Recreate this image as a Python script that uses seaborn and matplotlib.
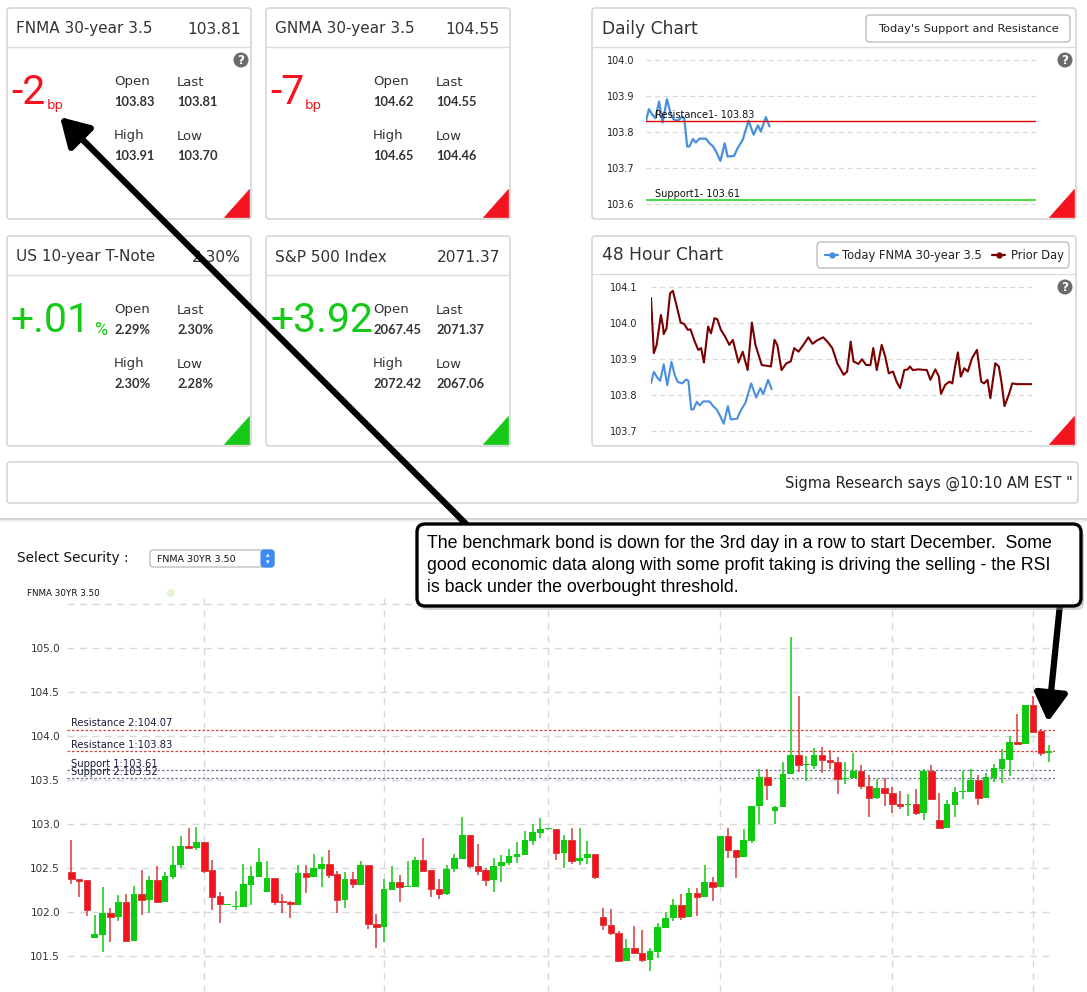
import matplotlib
matplotlib.use("Agg")
import matplotlib.pyplot as plt
import seaborn as sns
import numpy as np
from matplotlib.patches import FancyBboxPatch, Polygon, Circle, FancyArrowPatch

W, H = 1087, 992

# ---------------- data ----------------
tile_titles = ["FNMA 30-year 3.5", "GNMA 30-year 3.5", "US 10-year T-Note", "S&P 500 Index"]
tile_last = ["103.81", "104.55", "2.30%", "2071.37"]
tile_change = ["-2", "-7", "+.01", "+3.92"]
tile_unit = ["bp", "bp", "%", ""]
tile_open = ["103.83", "104.62", "2.29%", "2067.45"]
tile_close = ["103.81", "104.55", "2.30%", "2071.37"]
tile_high = ["103.91", "104.65", "2.30%", "2072.42"]
tile_low = ["103.70", "104.46", "2.28%", "2067.06"]

# intraday, minutes from session open
today_min = [0, 4, 9, 13, 18, 23, 29, 34, 38, 44, 50, 53, 57, 60, 65, 69, 74, 83, 88, 93,
             98, 103, 109, 113, 122, 127, 134, 142, 149, 155, 159, 166, 171]
today_px = [103.832, 103.864, 103.848, 103.839, 103.885, 103.827, 103.892, 103.853, 103.836,
            103.832, 103.843, 103.839, 103.760, 103.760, 103.781, 103.771, 103.782, 103.782,
            103.769, 103.760, 103.742, 103.720, 103.769, 103.732, 103.734, 103.756, 103.779,
            103.832, 103.793, 103.819, 103.802, 103.842, 103.816]

prior_min = [0, 4, 8, 14, 17, 18, 22, 27, 31, 36, 42, 47, 52, 56, 62, 67, 71, 75, 81, 85,
             90, 94, 99, 105, 111, 116, 124, 130, 137, 143, 148, 157, 164, 170, 175, 179,
             185, 192, 198, 203, 209, 216, 223, 229, 235, 244, 250, 257, 264, 273, 278,
             283, 287, 294, 299, 305, 311, 315, 320, 327, 332, 337, 343, 348, 353, 359,
             364, 367, 371, 379, 391, 396, 403, 408, 411, 417, 423, 427, 431, 435, 439,
             444, 449, 455, 462, 468, 472, 477, 481, 488, 493, 497, 501, 507, 512, 519, 539]
prior_px = [104.069, 103.916, 103.939, 104.022, 103.990, 103.969, 103.985, 104.082, 104.089,
            104.050, 104.001, 103.997, 103.981, 103.982, 103.948, 103.925, 103.930, 103.890,
            103.990, 103.971, 104.013, 104.010, 103.981, 103.962, 103.939, 103.953, 103.890,
            103.920, 103.869, 104.001, 103.939, 103.883, 103.881, 103.879, 103.953, 103.939,
            103.869, 103.888, 103.893, 103.930, 103.920, 103.939, 103.960, 103.942, 103.951,
            103.960, 103.948, 103.930, 103.888, 103.856, 103.865, 103.948, 103.893, 103.886,
            103.899, 103.883, 103.883, 103.930, 103.869, 103.939, 103.906, 103.860, 103.865,
            103.837, 103.819, 103.869, 103.871, 103.879, 103.869, 103.871, 103.869, 103.842,
            103.871, 103.851, 103.803, 103.828, 103.837, 103.832, 103.879, 103.918, 103.851,
            103.874, 103.865, 103.902, 103.925, 103.837, 103.832, 103.842, 103.791, 103.888,
            103.879, 103.832, 103.769, 103.800, 103.832, 103.830, 103.830]

daily_res = 103.83
daily_sup = 103.61

# daily candles: open, high, low, close
c_open = [102.45, 102.37, 102.36, 101.71, 101.74, 101.99, 101.94, 102.11, 101.67, 102.20,
          102.14, 102.36, 102.11, 102.40, 102.53, 102.75, 102.73, 102.79, 102.48, 102.18,
          102.08, 102.06, 102.06, 102.31, 102.40, 102.23, 102.39, 102.13, 102.11, 102.08,
          102.44, 102.40, 102.49, 102.55, 102.43, 102.14, 102.37, 102.31, 102.53, 101.86,
          101.83, 102.25, 102.34, 102.28, 102.28, 102.59, 102.48, 102.26, 102.20, 102.49,
          102.60, 102.87, 102.52, 102.48, 102.36, 102.52, 102.56, 102.63, 102.65, 102.81,
          102.90, 102.94, 102.94, 102.67, 102.82, 102.58, 102.61, 102.66, 101.94, 101.85,
          101.76, 101.44, 101.59, 101.53, 101.45, 101.55, 101.82, 101.93, 102.08, 101.94,
          102.22, 102.17, 102.34, 102.28, 102.86, 102.71, 102.62, 102.81, 103.20, 103.53,
          103.15, 103.19, 103.57, 103.78, 103.67, 103.66, 103.78, 103.73, 103.71, 103.51,
          103.52, 103.60, 103.43, 103.30, 103.41, 103.35, 103.23, 103.22, 103.23, 103.13,
          103.60, 103.05, 102.95, 103.22, 103.36, 103.36, 103.50, 103.29, 103.52, 103.63,
          103.73, 103.93, 103.91, 104.35, 104.06, 103.81]
c_high = [102.82, 102.37, 102.36, 101.97, 102.28, 102.05, 102.19, 102.20, 102.29, 102.48,
          102.41, 102.52, 102.45, 102.75, 102.86, 102.95, 102.97, 102.79, 102.59, 102.23,
          102.09, 102.24, 102.55, 102.52, 102.73, 102.58, 102.39, 102.20, 102.13, 102.53,
          102.53, 102.66, 102.63, 102.70, 102.47, 102.45, 102.45, 102.58, 102.53, 101.98,
          102.38, 102.52, 102.42, 102.58, 102.63, 102.84, 102.48, 102.37, 102.53, 102.66,
          103.08, 102.87, 102.77, 102.50, 102.61, 102.65, 102.72, 102.79, 102.92, 103.00,
          103.07, 102.95, 102.94, 102.87, 102.96, 102.95, 102.81, 102.66, 102.05, 102.03,
          101.78, 101.69, 101.84, 101.80, 101.59, 101.88, 102.00, 102.15, 102.20, 102.27,
          102.27, 102.53, 102.40, 102.86, 102.95, 102.71, 102.94, 103.20, 103.62, 103.62,
          103.20, 103.70, 105.12, 104.46, 103.77, 103.86, 103.87, 103.84, 103.76, 103.70,
          103.81, 103.67, 103.56, 103.51, 103.52, 103.42, 103.37, 103.34, 103.40, 103.62,
          103.67, 103.35, 103.27, 103.42, 103.60, 103.62, 103.56, 103.58, 103.68, 103.85,
          104.00, 104.25, 104.35, 104.45, 104.08, 103.90]
c_low = [102.32, 102.17, 101.95, 101.70, 101.55, 101.66, 101.90, 101.67, 101.67, 101.97,
         101.99, 102.11, 102.11, 102.38, 102.50, 102.73, 102.70, 102.44, 102.02, 101.87,
         102.08, 102.02, 102.06, 102.08, 102.40, 102.23, 102.08, 101.99, 101.93, 102.08,
         102.22, 102.40, 102.28, 102.39, 101.99, 102.04, 102.27, 102.31, 101.81, 101.59,
         101.66, 102.25, 102.11, 102.28, 102.28, 102.47, 102.17, 102.15, 102.19, 102.46,
         102.60, 102.50, 102.42, 102.29, 102.23, 102.34, 102.53, 102.56, 102.65, 102.76,
         102.84, 102.93, 102.59, 102.50, 102.54, 102.53, 102.55, 102.38, 101.80, 101.74,
         101.43, 101.44, 101.53, 101.43, 101.33, 101.48, 101.82, 101.90, 101.91, 101.94,
         101.95, 102.17, 102.12, 102.28, 102.61, 102.39, 102.62, 102.78, 103.00, 103.27,
         103.00, 103.19, 103.57, 103.59, 103.49, 103.62, 103.58, 103.62, 103.34, 103.45,
         103.52, 103.40, 103.08, 103.28, 103.20, 103.12, 103.17, 103.09, 103.10, 103.05,
         103.28, 102.95, 102.95, 103.08, 103.28, 103.36, 103.22, 103.29, 103.48, 103.47,
         103.54, 103.91, 103.91, 104.05, 103.77, 103.70]
c_close = [102.37, 102.35, 102.02, 101.75, 101.99, 101.94, 102.11, 101.67, 102.20, 102.14,
           102.36, 102.11, 102.41, 102.53, 102.75, 102.73, 102.80, 102.47, 102.17, 102.09,
           102.09, 102.07, 102.32, 102.41, 102.57, 102.39, 102.11, 102.11, 102.09, 102.44,
           102.40, 102.50, 102.55, 102.42, 102.14, 102.37, 102.32, 102.53, 101.86, 101.83,
           102.26, 102.34, 102.28, 102.29, 102.59, 102.47, 102.26, 102.20, 102.49, 102.61,
           102.87, 102.52, 102.47, 102.36, 102.52, 102.57, 102.64, 102.66, 102.82, 102.91,
           102.94, 102.945, 102.67, 102.82, 102.58, 102.61, 102.66, 102.40, 101.85, 101.76,
           101.44, 101.59, 101.53, 101.45, 101.56, 101.83, 101.93, 102.08, 101.94, 102.22,
           102.17, 102.34, 102.28, 102.86, 102.71, 102.62, 102.82, 103.20, 103.53, 103.44,
           103.19, 103.57, 103.78, 103.67, 103.675, 103.78, 103.73, 103.71, 103.51, 103.52,
           103.60, 103.43, 103.30, 103.41, 103.35, 103.23, 103.21, 103.23, 103.13, 103.60,
           103.28, 102.95, 103.23, 103.36, 103.38, 103.50, 103.29, 103.53, 103.64, 103.74,
           103.93, 103.91, 104.35, 104.05, 103.81, 103.83]

month_starts = [17, 40, 61, 83, 105, 123]
sr_names = ["Resistance 2", "Resistance 1", "Support 1", "Support 2"]
sr_levels = [104.07, 103.83, 103.61, 103.52]
price_ticks = [101.5, 102.0, 102.5, 103.0, 103.5, 104.0, 104.5, 105.0, 105.5]

note_lines = ["The benchmark bond is down for the 3rd day in a row to start December.  Some",
              "good economic data along with some profit taking is driving the selling - the RSI",
              "is back under the overbought threshold."]

# ---------------- styling ----------------
sns.set_theme(style="white")
plt.rcParams["font.family"] = ["DejaVu Sans"]

RED = "#f3141f"
GREEN = "#16c916"
TXT = "#333333"
BORDER = "#cfcfcf"
GRID = "#d9d9d9"

fig = plt.figure(figsize=(W / 100, H / 100), dpi=100)
fig.patch.set_facecolor("white")


def px_axes(x0, y0, x1, y1, z=5):
    return fig.add_axes([x0 / W, 1 - y1 / H, (x1 - x0) / W, (y1 - y0) / H], zorder=z)


def overlay(z):
    a = px_axes(0, 0, W, H, z)
    a.set_xlim(0, W)
    a.set_ylim(H, 0)
    a.axis("off")
    a.patch.set_alpha(0)
    return a


bg = overlay(0)
fg = overlay(20)


def panel(x0, y0, x1, y1, header=None):
    bg.add_patch(FancyBboxPatch((x0, y0), x1 - x0, y1 - y0,
                                boxstyle="round,pad=0,rounding_size=3",
                                fc="white", ec=BORDER, lw=1))
    if header is not None:
        bg.plot([x0, x1], [header, header], color="#dcdcdc", lw=1)


def corner(x1, y1, color):
    bg.add_patch(Polygon([(x1 - 27, y1 - 2), (x1 - 2, y1 - 2), (x1 - 2, y1 - 30)],
                         closed=True, fc=color, ec=color, lw=0.5))


def help_icon(cx, cy):
    bg.add_patch(Circle((cx, cy), 7.5, fc="#6b6b6b", ec="none"))
    bg.text(cx, cy + 0.5, "?", color="white", fontsize=8.5, fontweight="bold",
            ha="center", va="center")


def clean(a):
    a.patch.set_alpha(0)
    a.set_xlabel("")
    a.set_ylabel("")
    for s in a.spines.values():
        s.set_visible(False)


# ---------------- stat tiles ----------------
tile_boxes = [(7, 8, 251, 219), (266, 8, 510, 219), (7, 236, 251, 446), (266, 236, 510, 446)]
renderer = fig.canvas.get_renderer()

for i, (x0, y0, x1, y1) in enumerate(tile_boxes):
    panel(x0, y0, x1, y1, header=y0 + 39)
    bg.text(x0 + 9, y0 + 21, tile_titles[i], fontsize=11, color=TXT, va="center")
    bg.text(x1 - 10, y0 + 21, tile_last[i], fontsize=11.2, color=TXT, va="center", ha="right")
    col = RED if tile_change[i].startswith("-") else GREEN
    t = bg.text(x0 + 4, y0 + 85, tile_change[i], fontsize=29.5, color=col, va="center",
                family="Roboto")
    ext = t.get_window_extent(renderer)
    xr = bg.transData.inverted().transform((ext.x1, ext.y0))[0]
    if tile_unit[i] == "bp":
        bg.text(xr + 1, y0 + 97, "bp", fontsize=9.5, color=col, va="center")
    elif tile_unit[i]:
        bg.text(xr + 3, y0 + 94, tile_unit[i], fontsize=13, color=col, va="center",
                family="Roboto")
    for lab, val, dx, dy in [("Open", tile_open[i], 107, 74), ("Last", tile_close[i], 170, 74),
                             ("High", tile_high[i], 107, 128), ("Low", tile_low[i], 170, 128)]:
        bg.text(x0 + dx, y0 + dy, lab, fontsize=9.5, color=TXT, va="center")
        bg.text(x0 + dx, y0 + dy + 20, val, fontsize=9.3, color=TXT, va="center",
                fontweight="bold", family="Lato")
    corner(x1, y1, RED if i < 2 else GREEN)
help_icon(241, 60)

# ---------------- daily chart ----------------
panel(592, 8, 1076, 219, header=47)
bg.text(602, 29, "Daily Chart", fontsize=12.3, color=TXT, va="center")
bg.add_patch(FancyBboxPatch((866, 15), 204, 27, boxstyle="round,pad=0,rounding_size=4",
                            fc="white", ec="#bdbdbd", lw=1))
bg.text(968, 28.5, "Today's Support and Resistance", fontsize=8.2, color="#222222",
        ha="center", va="center")
help_icon(1065, 60)
corner(1076, 219, RED)

axd = px_axes(646, 50, 1036, 214)
sns.lineplot(x=today_min, y=today_px, ax=axd, color="#4a8fdd", lw=1.6)
axd.axhline(daily_res, color="#dd0000", lw=1)
axd.axhline(daily_sup, color="#22dd22", lw=1.2)
axd.annotate(f"Resistance1- {daily_res:.2f}", xy=(0, daily_res), xycoords=("axes fraction", "data"),
             xytext=(6.5, 4.5), textcoords="offset points", fontsize=7, color="#111111", va="center")
axd.annotate(f"Support1- {daily_sup:.2f}", xy=(0, daily_sup), xycoords=("axes fraction", "data"),
             xytext=(6.5, 4.5), textcoords="offset points", fontsize=7, color="#111111", va="center")
axd.set_xlim(0, 540)
axd.set_ylim(103.572, 104.029)
yt_d = [103.6, 103.7, 103.8, 103.9, 104.0]
axd.set_yticks(yt_d)
axd.set_yticklabels([f"{v:.1f}" for v in yt_d])
axd.set_xticks([])
axd.grid(axis="y", ls=(0, (4, 3)), color=GRID, lw=0.9)
axd.tick_params(axis="y", length=0, labelsize=7, labelcolor="#222222", pad=8.5)
clean(axd)

# ---------------- 48 hour chart ----------------
panel(592, 236, 1076, 446, header=274)
bg.text(602, 255, "48 Hour Chart", fontsize=12.3, color=TXT, va="center")
bg.add_patch(FancyBboxPatch((817, 242), 252, 26, boxstyle="round,pad=0,rounding_size=4",
                            fc="white", ec="#bdbdbd", lw=1))
bg.plot([825, 831.5, 838], [255, 255, 255], color="#4a8fdd", lw=1.6, marker="o",
        markersize=3.5, markevery=[1])
bg.text(842, 255, "Today FNMA 30-year 3.5", fontsize=8.3, color="#222222", va="center")
bg.plot([992, 998.5, 1005], [255, 255, 255], color="#7a0000", lw=1.6, marker="o",
        markersize=3.5, markevery=[1])
bg.text(1011, 255, "Prior Day", fontsize=8.3, color="#222222", va="center")
help_icon(1065, 287)
corner(1076, 446, RED)

ax48 = px_axes(651, 280, 1032, 440)
sns.lineplot(x=prior_min, y=prior_px, ax=ax48, color="#7a0000", lw=1.5)
sns.lineplot(x=today_min, y=today_px, ax=ax48, color="#4a8fdd", lw=1.5)
ax48.set_xlim(0, 540)
ax48.set_ylim(103.675, 104.119)
yt48 = [103.7, 103.8, 103.9, 104.0, 104.1]
ax48.set_yticks(yt48)
ax48.set_yticklabels([f"{v:.1f}" for v in yt48])
ax48.set_xticks([])
ax48.grid(axis="y", ls=(0, (4, 3)), color=GRID, lw=0.9)
ax48.tick_params(axis="y", length=0, labelsize=7, labelcolor="#222222", pad=9.5)
clean(ax48)

# ---------------- ticker ----------------
bg.add_patch(FancyBboxPatch((7, 462), 1071, 41, boxstyle="round,pad=0,rounding_size=3",
                            fc="white", ec=BORDER, lw=1))
bg.text(785, 483, "Sigma Research says @10:10 AM EST \"", fontsize=10.5, color="#222222",
        va="center")
bg.plot([0, W], [519, 519], color="#cccccc", lw=1.2)
bg.plot([0, W], [520.5, 520.5], color="#eeeeee", lw=1.5)

# ---------------- selector ----------------
bg.text(17, 558, "Select Security :", fontsize=9.8, color="#111111", va="center")
bg.add_patch(FancyBboxPatch((150, 550), 124, 17, boxstyle="round,pad=0,rounding_size=3",
                            fc="white", ec="#b0b0b0", lw=0.8))
bg.add_patch(FancyBboxPatch((261, 550), 13, 17, boxstyle="round,pad=0,rounding_size=3",
                            fc="#3d8af7", ec="#3d8af7", lw=0.8))
bg.text(267.5, 555.5, "\u25b4", color="white", fontsize=5, ha="center", va="center")
bg.text(267.5, 562, "\u25be", color="white", fontsize=5, ha="center", va="center")
bg.text(157, 559, "FNMA 30YR 3.50", fontsize=6.8, color="#111111", va="center")
bg.text(27, 594, "FNMA 30YR 3.50", fontsize=6.3, color="#111111", va="center")
bg.add_patch(Circle((171, 593), 4, fc="#e3f3d3", ec="none"))

# ---------------- candlestick chart ----------------
ax = px_axes(67, 598, 1055, 992)
o = np.array(c_open)
hi = np.array(c_high)
lo = np.array(c_low)
cl = np.array(c_close)
idx = np.arange(len(o))
up = cl >= o
body_lo = np.minimum(o, cl)
body_h = np.maximum(np.abs(cl - o), 0.012)

ax.vlines(idx[up], lo[up], hi[up], color="#14c814", lw=1.1, zorder=3)
ax.vlines(idx[~up], lo[~up], hi[~up], color="#d93a3a", lw=1.1, zorder=3)
ax.bar(idx[up], body_h[up], bottom=body_lo[up], width=0.84, color="#0fcb0f", lw=0, zorder=4)
ax.bar(idx[~up], body_h[~up], bottom=body_lo[~up], width=0.84, color="#f5121f",
       edgecolor="#d94040", lw=0.7, zorder=4)

for name, lvl in zip(sr_names, sr_levels):
    col = "#d9403a" if name.startswith("Res") else "#6c7894"
    ax.axhline(lvl, color=col, lw=0.9, ls=(0, (2, 1.6)), zorder=2)
    ax.annotate(f"{name}:{lvl:.2f}", xy=(0, lvl), xycoords=("axes fraction", "data"),
                xytext=(3, 4.6), textcoords="offset points", fontsize=7.2, color="#1c1c3c",
                va="center", zorder=5)

ax.set_xlim(-0.55, 125.8)
ax.set_ylim(101.091, 105.568)
ax.set_yticks(price_ticks)
ax.set_yticklabels([f"{v:.1f}" for v in price_ticks[:-1]] + [""])
ax.set_xticks(month_starts)
ax.set_xticklabels([])
ax.grid(True, ls=(0, (5, 4)), color=GRID, lw=1)
ax.set_axisbelow(True)
ax.tick_params(length=0, labelsize=7.5, labelcolor="#333333", pad=5)
clean(ax)

# ---------------- callout + arrows ----------------
for tail, head in [((466, 524), (60, 117)), ((1060, 604), (1048, 722))]:
    fg.add_patch(FancyArrowPatch(tail, head,
                                 arrowstyle="-|>,head_length=0.85,head_width=0.5",
                                 mutation_scale=20, lw=4.5, color="black",
                                 shrinkA=0, shrinkB=0, zorder=1))
fg.add_patch(FancyBboxPatch((420, 528), 664, 82, boxstyle="round,pad=0,rounding_size=8",
                            fc="#9a9a9a", ec="none", alpha=0.45, zorder=2))
fg.add_patch(FancyBboxPatch((417, 524), 664, 82, boxstyle="round,pad=0,rounding_size=8",
                            fc="white", ec="black", lw=2.4, zorder=3))
for k, line in enumerate(note_lines):
    fg.text(427, 543 + 22 * k, line, fontsize=12.8, family="Liberation Sans", color="black",
            va="center", zorder=4)

fig.savefig("out.png", dpi=100)
